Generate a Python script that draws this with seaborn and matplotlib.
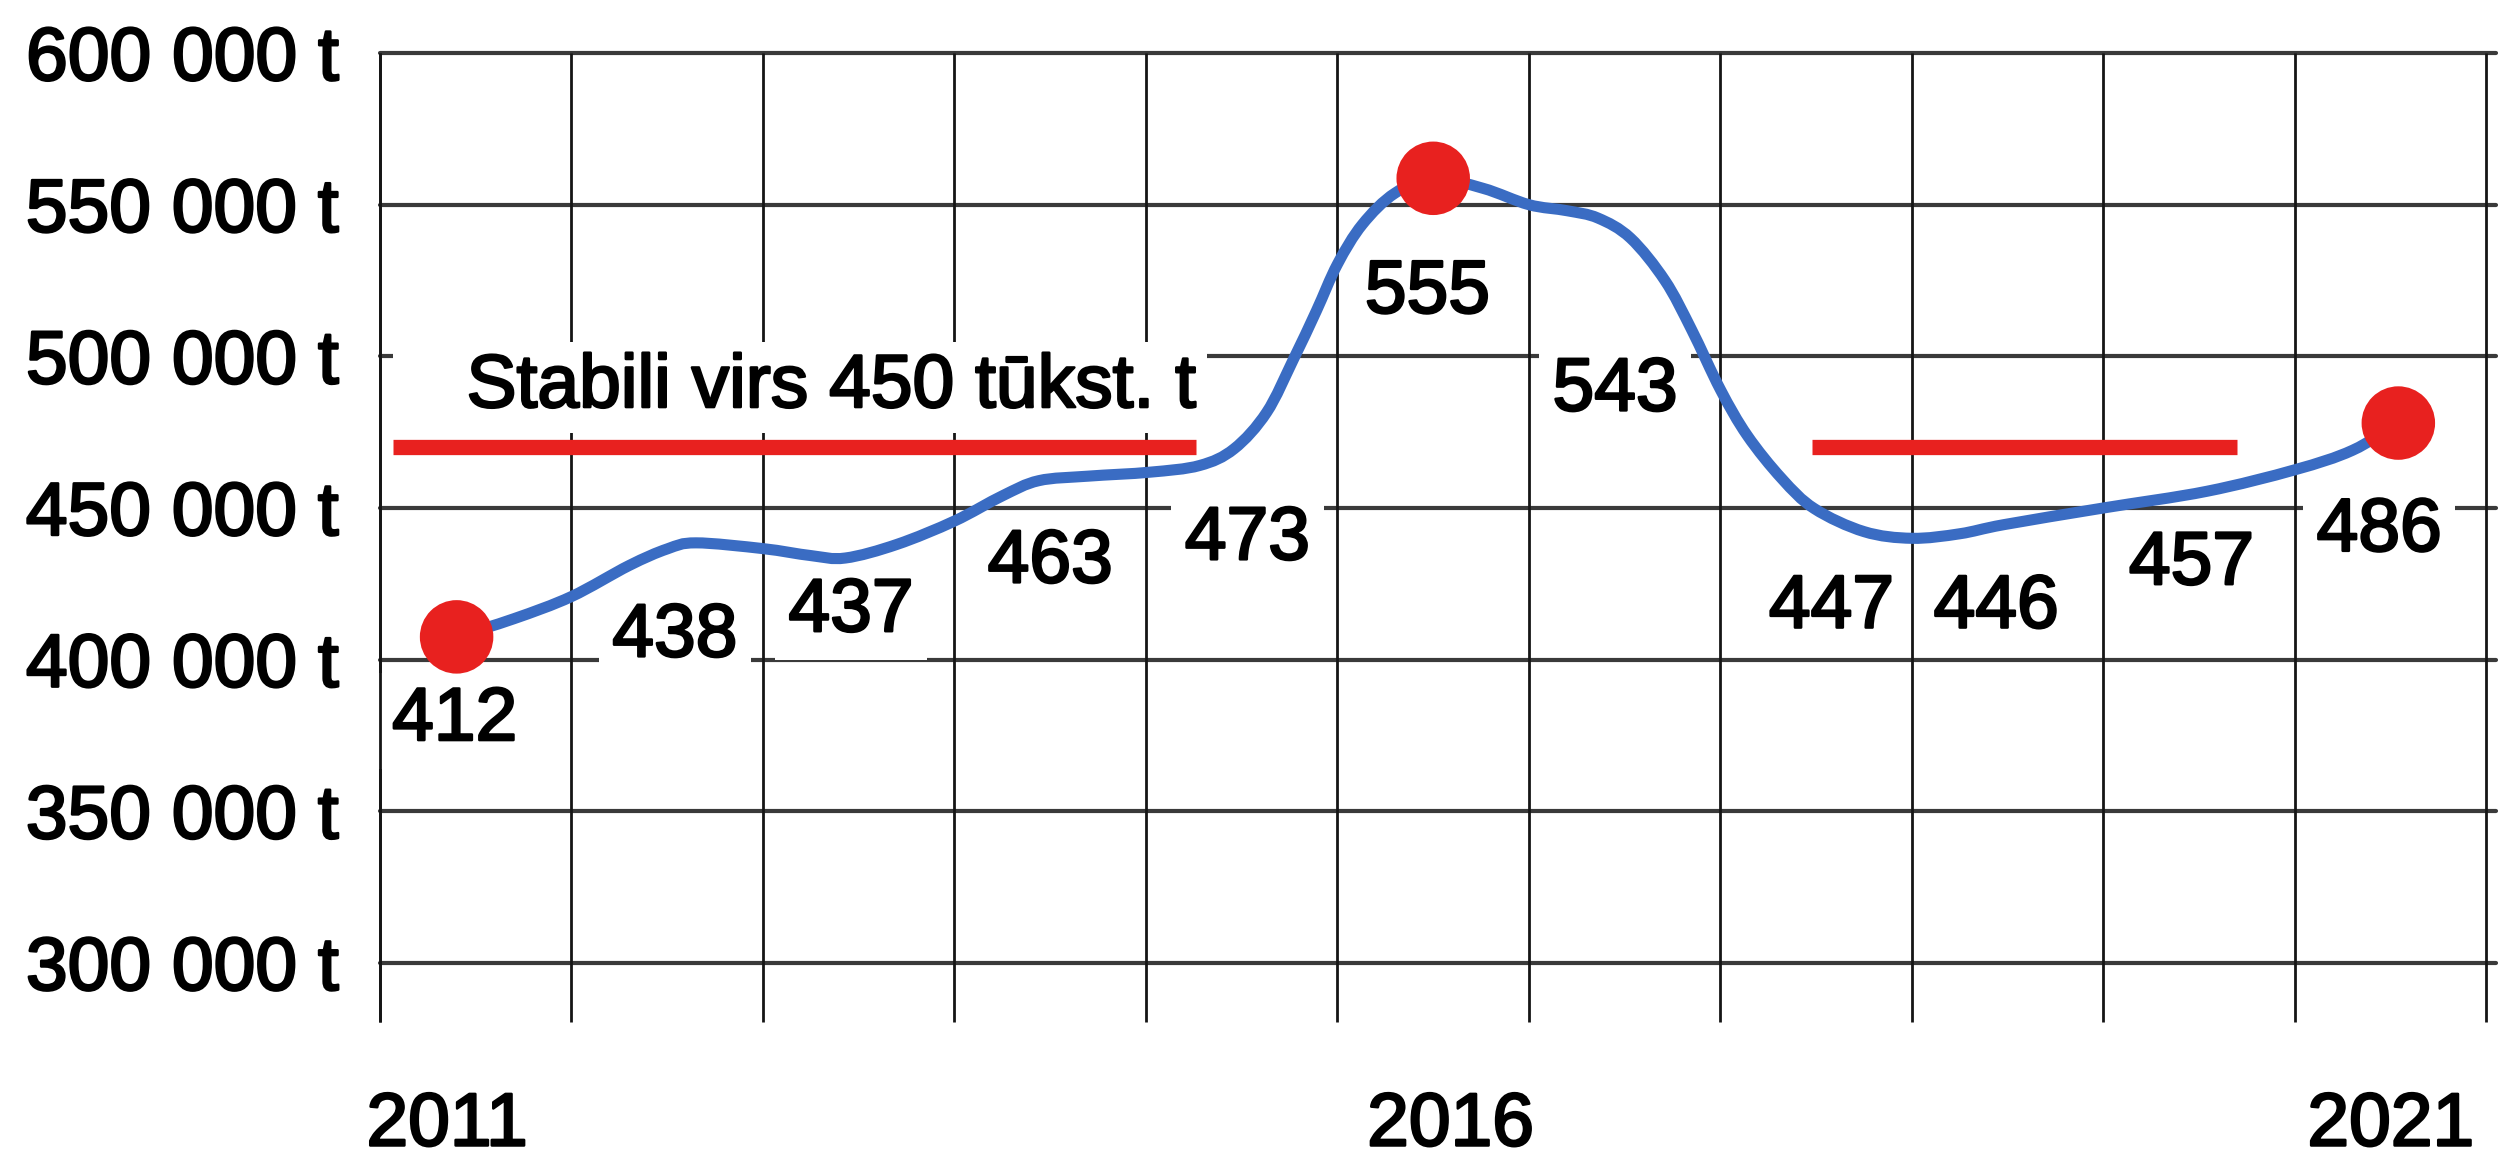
import matplotlib
matplotlib.use("Agg")
import matplotlib.pyplot as plt
import matplotlib.patheffects as pe
from matplotlib.path import Path
from matplotlib.patches import PathPatch
import numpy as np
import pandas as pd
import seaborn as sns

# ---------------- data ----------------
years = [2011, 2012, 2013, 2014, 2015, 2016, 2017, 2018, 2019, 2020, 2021]
values_kt = [412, 438, 437, 463, 473, 555, 543, 447, 446, 457, 486]
# where each value label sits (year position, tonnes)
label_x = [2010.89, 2012.04, 2012.96, 2014.00, 2015.03, 2015.97, 2016.95, 2018.08, 2018.94, 2019.96, 2020.94]
label_y = [379900, 407500, 415800, 431900, 439500, 520800, 488600, 417000, 417000, 431300, 442300]

# smooth trend curve (year, thousand tonnes)
curve_x = [2010.90, 2011.20, 2011.50, 2011.80, 2012.00, 2012.15, 2012.50, 2012.75, 2012.93, 2013.20,
           2013.50, 2013.75, 2013.94, 2014.20, 2014.52, 2014.78, 2014.96, 2015.13, 2015.27, 2015.39,
           2015.50, 2015.63, 2015.80, 2016.00, 2016.26, 2016.50, 2016.70, 2016.86, 2017.03, 2017.21,
           2017.35, 2017.50, 2017.64, 2017.82, 2017.99, 2018.25, 2018.50, 2018.75, 2018.98, 2019.50,
           2020.04, 2020.50, 2020.80, 2021.04]
curve_kt = [407.5, 413.5, 420.8, 431.0, 436.5, 438.5, 436.6, 434.3, 433.5, 438.0,
            445.7, 454.0, 459.0, 460.5, 461.8, 464.0, 469.5, 481.5, 499.0, 515.0,
            530.4, 543.5, 553.8, 558.7, 555.4, 550.0, 548.0, 545.6, 539.0, 525.0,
            508.7, 489.0, 473.9, 459.7, 449.8, 442.2, 440.0, 441.5, 444.5, 450.0,
            455.5, 462.6, 469.0, 478.0]

dot_x = [2010.90, 2016.00, 2021.04]
dot_kt = [407.5, 558.7, 478.0]

stable_level = 470000
stable_start = [2010.57, 2017.98]
stable_end = [2014.76, 2020.20]
stable_text = "Stabili virs 450 tūkst. t"
stable_text_pos = (2014.76, 489700)   # right edge of the text

y_ticks = [300000, 350000, 400000, 450000, 500000, 550000, 600000]
x_tick_labels = ["2011", "2016", "2021"]
x_tick_pos = [2010.85, 2016.09, 2021.00]

# ---------------- style ----------------
sns.set_theme(style="white")
plt.rcParams["font.family"] = ["Liberation Sans", "DejaVu Sans"]

BLUE = "#3a6cc3"
RED = "#e8211f"
GRID_H = "#3a3a3a"
GRID_V = "#151515"
FS = 54
bold = [pe.withStroke(linewidth=1.8, foreground="black")]

fig = plt.figure(figsize=(25, 11.71), dpi=100)
ax = fig.add_axes([0.152, 0.1272, 0.8464, 0.8275])
ax.set_xlim(2010.5, 2021.55)
ax.set_ylim(280500, 600000)
for s in ax.spines.values():
    s.set_visible(False)

# grid
for v in y_ticks:
    ax.axhline(v, color=GRID_H, lw=3.0, zorder=1, clip_on=False)
bounds = np.arange(years[0] - 0.5, years[-1] + 1.0, 1.0)
ax.vlines(bounds, 280500, 600000, color=GRID_V, lw=2.0, zorder=1, clip_on=False)
ax.vlines([bounds[0]], 280500, 600000, color=GRID_V, lw=2.0, zorder=2.6, clip_on=False)

# value labels with white backgrounds
for x, y, v in zip(label_x, label_y, values_kt):
    ax.text(x, y, str(v), ha="center", va="center", fontsize=FS, color="black", zorder=2,
            path_effects=bold,
            bbox=dict(boxstyle="square,pad=0.18", fc="white", ec="none"))

ax.text(stable_text_pos[0], stable_text_pos[1], "   " + stable_text, ha="right", va="center",
        fontsize=FS, color="black", zorder=2, path_effects=bold,
        bbox=dict(boxstyle="square,pad=0.15", fc="white", ec="none"))

# red stable lines
ax.hlines([stable_level] * len(stable_start), stable_start, stable_end, color=RED, lw=11, zorder=3)

# smooth curve through the read points (Catmull-Rom drawn as cubic Bezier path)
P = np.column_stack([curve_x, np.array(curve_kt) * 1000])
verts = [P[0]]
codes = [Path.MOVETO]
for i in range(len(P) - 1):
    p0 = P[i - 1] if i > 0 else P[i]
    p1, p2 = P[i], P[i + 1]
    p3 = P[i + 2] if i + 2 < len(P) else P[i + 1]
    verts += [p1 + (p2 - p0) / 6.0, p2 - (p3 - p1) / 6.0, p2]
    codes += [Path.CURVE4] * 3
ax.add_patch(PathPatch(Path(verts, codes), fill=False, ec=BLUE, lw=8,
                       capstyle="round", joinstyle="round", zorder=4,
                       transform=ax.transData))

dots_df = pd.DataFrame({"year": dot_x, "t": np.array(dot_kt) * 1000})
sns.scatterplot(data=dots_df, x="year", y="t", ax=ax, color=RED, s=2800, edgecolor="none",
                zorder=5, clip_on=False)

# ticks
ax.set_yticks(y_ticks)
ax.set_yticklabels([f"{v:,}".replace(",", " ") + " t" for v in y_ticks])
ax.set_xticks(x_tick_pos)
ax.set_xticklabels(x_tick_labels)
ax.tick_params(axis="y", length=0, labelsize=FS, pad=30, colors="black")
ax.tick_params(axis="x", length=0, labelsize=FS, pad=50, colors="black")
for t in ax.get_xticklabels() + ax.get_yticklabels():
    t.set_path_effects(bold)
ax.set_xlabel("")
ax.set_ylabel("")
ax.grid(False)

fig.savefig("out.png", dpi=100, facecolor="white")
